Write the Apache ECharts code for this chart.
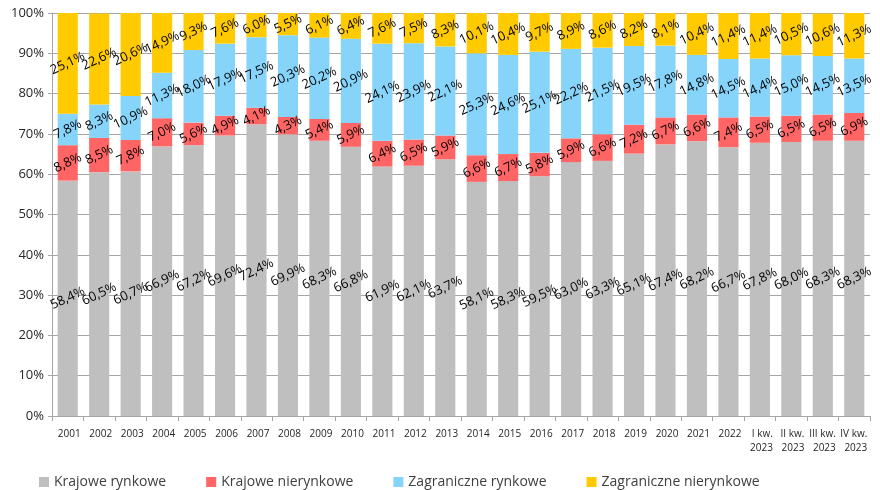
<!DOCTYPE html>
<html>
<head>
<meta charset="utf-8">
<script src="https://cdn.jsdelivr.net/npm/echarts@6/dist/echarts.min.js"></script>
<style>
    html, body { margin: 0; padding: 0; background: #fff; }
    #chart { width: 880px; height: 490px; }
</style>
</head>
<body>
<div id="chart"></div>
<script>
// kategorie osi X
const categories = ['2001', '2002', '2003', '2004', '2005', '2006', '2007', '2008', '2009', '2010',
    '2011', '2012', '2013', '2014', '2015', '2016', '2017', '2018', '2019', '2020', '2021', '2022',
    'I kw.\n2023', 'II kw.\n2023', 'III kw.\n2023', 'IV kw.\n2023']

// udziały (%)
const krajoweRynkowe = [58.4, 60.5, 60.7, 66.9, 67.2, 69.6, 72.4, 69.9, 68.3, 66.8, 61.9, 62.1, 63.7,
    58.1, 58.3, 59.5, 63.0, 63.3, 65.1, 67.4, 68.2, 66.7, 67.8, 68.0, 68.3, 68.3]
const krajoweNierynkowe = [8.8, 8.5, 7.8, 7.0, 5.6, 4.9, 4.1, 4.3, 5.4, 5.9, 6.4, 6.5, 5.9,
    6.6, 6.7, 5.8, 5.9, 6.6, 7.2, 6.7, 6.6, 7.4, 6.5, 6.5, 6.5, 6.9]
const zagraniczneRynkowe = [7.8, 8.3, 10.9, 11.3, 18.0, 17.9, 17.5, 20.3, 20.2, 20.9, 24.1, 23.9, 22.1,
    25.3, 24.6, 25.1, 22.2, 21.5, 19.5, 17.8, 14.8, 14.5, 14.4, 15.0, 14.5, 13.5]
const zagraniczneNierynkowe = [25.1, 22.6, 20.6, 14.9, 9.3, 7.6, 6.0, 5.5, 6.1, 6.4, 7.6, 7.5, 8.3,
    10.1, 10.4, 9.7, 8.9, 8.6, 8.2, 8.1, 10.4, 11.4, 11.4, 10.5, 10.6, 11.3]

const seriesNames = ['Krajowe rynkowe', 'Krajowe nierynkowe', 'Zagraniczne rynkowe', 'Zagraniczne nierynkowe']
const seriesData = [krajoweRynkowe, krajoweNierynkowe, zagraniczneRynkowe, zagraniczneNierynkowe]
const colors = ['#BFBFBF', '#FF6565', '#87D4FB', '#FFCA00']

const font = 'Open Sans'

const chart = echarts.init(document.getElementById('chart'))

chart.setOption({
    animation: false,
    textStyle: { fontFamily: font },
    grid: { left: 52, right: 10, top: 13, bottom: 74 },
    legend: {
        top: 470,
        left: 34,
        itemGap: 40,
        icon: 'rect',
        itemWidth: 10,
        itemHeight: 10,
        textStyle: { fontFamily: font, fontSize: 14, color: '#404040' },
        data: seriesNames
    },
    xAxis: {
        type: 'category',
        data: categories,
        axisLine: { lineStyle: { color: '#A6A6A6' } },
        axisTick: { show: true, lineStyle: { color: '#A6A6A6' } },
        axisLabel: {
            interval: 0,
            fontSize: 10,
            color: '#262626',
            lineHeight: 14,
            margin: 11,
            align: 'right',
            padding: [0, -13, 0, 0]
        }
    },
    yAxis: {
        type: 'value',
        min: 0,
        max: 100,
        interval: 10,
        axisLine: { show: true, lineStyle: { color: '#A6A6A6' } },
        axisTick: { show: true, length: 4, lineStyle: { color: '#A6A6A6' } },
        splitLine: { lineStyle: { color: '#A6A6A6', width: 1 } },
        axisLabel: {
            fontSize: 13,
            color: '#262626',
            margin: 8,
            formatter: v => v + '%'
        }
    },
    series: seriesData.map((d, i) => ({
        name: seriesNames[i],
        type: 'bar',
        stack: 'suma',
        barWidth: '64%',
        data: d,
        itemStyle: { color: colors[i] },
        label: {
            show: true,
            position: 'inside',
            rotate: 25,
            fontSize: 13,
            color: '#000',
            fontFamily: font,
            formatter: p => p.value.toFixed(1).replace('.', ',') + '%'
        }
    }))
})
</script>
</body>
</html>
